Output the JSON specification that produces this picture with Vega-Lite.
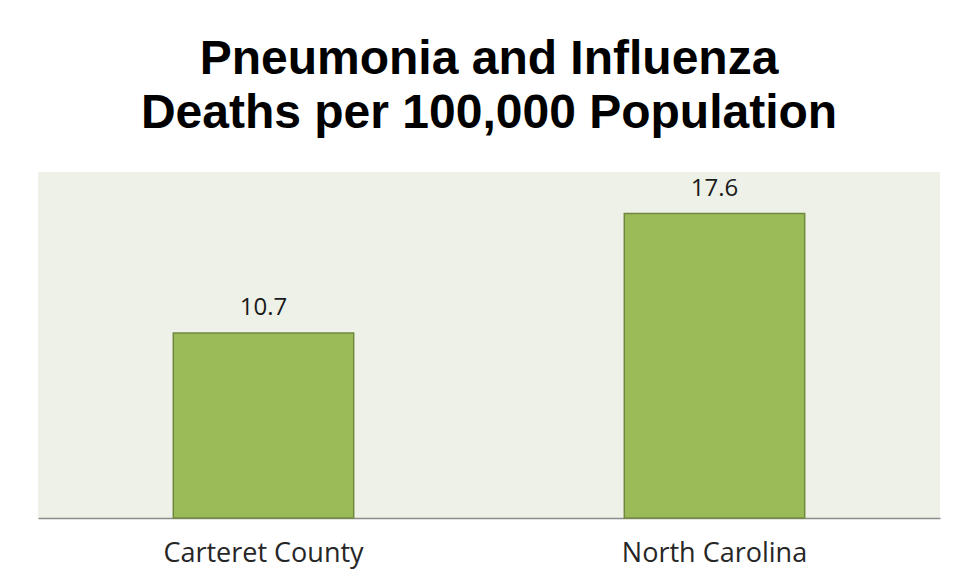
{
  "$schema": "https://vega.github.io/schema/vega-lite/v6.json",
  "width": 902,
  "height": 346,
  "autosize": {"type": "none"},
  "padding": {"left": 38, "top": 172, "right": 18, "bottom": 62},
  "background": "white",
  "title": {
    "text": ["Pneumonia and Influenza", "Deaths per 100,000 Population"],
    "font": "Liberation Sans",
    "fontSize": 48,
    "fontWeight": "bold",
    "color": "black",
    "lineHeight": 54,
    "anchor": "middle",
    "frame": "group",
    "baseline": "bottom",
    "offset": -14
  },
  "config": {
    "view": {"fill": "#EEF1E8", "stroke": null}
  },
  "data": {
    "values": [
      {"region": "Carteret County", "rate": 10.7},
      {"region": "North Carolina", "rate": 17.6}
    ]
  },
  "encoding": {
    "x": {
      "field": "region",
      "type": "nominal",
      "sort": null,
      "scale": {"paddingInner": 0.6, "paddingOuter": 0.3},
      "axis": {
        "title": null,
        "labelAngle": 0,
        "ticks": false,
        "tickSize": 0,
        "labelPadding": 43,
        "labelBaseline": "alphabetic",
        "labelFont": "Open Sans",
        "labelFontSize": 27,
        "labelLimit": 0,
        "labelColor": "#262626",
        "domainColor": "#8c8c8c",
        "domainWidth": 1.5,
        "grid": false
      }
    },
    "y": {
      "field": "rate",
      "type": "quantitative",
      "scale": {"domain": [0, 20], "nice": false},
      "axis": null
    }
  },
  "layer": [
    {
      "mark": {"type": "bar", "fill": "#9BBB59", "stroke": "#71893F", "strokeWidth": 1.5}
    },
    {
      "mark": {"type": "text", "baseline": "alphabetic", "dy": -18, "font": "Open Sans", "fontSize": 24, "color": "#1a1a1a"},
      "encoding": {"text": {"field": "rate", "type": "quantitative", "format": ".1f"}}
    }
  ]
}
